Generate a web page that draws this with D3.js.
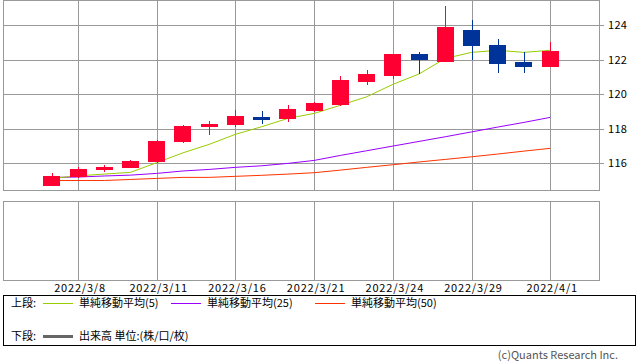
<!DOCTYPE html>
<html>
<head>
<meta charset="utf-8">
<script src="https://cdn.jsdelivr.net/npm/d3@7"></script>
<style>
  body { margin: 0; background: #fff; }
  svg text { font-family: "Noto Sans CJK JP", "DejaVu Sans", sans-serif; }
</style>
</head>
<body>
<div id="chart"></div>
<script>
// daily candles (USD/JPY style)
const dates = ["3/7","3/8","3/9","3/10","3/11","3/14","3/15","3/16","3/17","3/18",
               "3/21","3/22","3/23","3/24","3/25","3/28","3/29","3/30","3/31","4/1"];
const opens  = [114.71,115.19,115.63,115.75,116.08,117.25,118.12,118.23,118.68,118.55,
                119.04,119.39,120.72,121.05,122.32,121.86,123.71,122.84,121.86,121.57];
const highs  = [115.44,115.80,115.92,116.21,117.35,118.22,118.45,119.08,119.03,119.37,
                119.55,121.05,121.40,122.35,122.44,125.10,124.29,123.19,122.44,123.02];
const lows   = [114.71,115.17,115.50,115.72,116.00,117.20,117.64,118.12,118.27,118.41,
                119.00,119.32,120.55,120.90,121.17,121.85,121.98,121.22,121.22,121.55];
const closes = [115.27,115.67,115.80,116.13,117.29,118.16,118.27,118.74,118.52,119.14,
                119.49,120.82,121.17,122.32,121.98,123.88,122.79,121.74,121.57,122.50];

const ma5  = [115.13,115.28,115.38,115.48,116.04,116.61,117.10,117.68,118.12,118.60,
              118.89,119.36,119.85,120.57,121.17,122.07,122.42,122.54,122.42,122.54];
const ma25 = [115.19,115.21,115.27,115.32,115.42,115.56,115.65,115.77,115.86,116.00,
              116.17,116.46,116.73,117.00,117.27,117.54,117.82,118.10,118.37,118.66];
const ma50 = [115.01,115.01,115.01,115.07,115.13,115.19,115.19,115.25,115.31,115.38,
              115.46,115.61,115.77,115.92,116.08,116.23,116.38,116.54,116.71,116.87];

const yTicks = [116, 118, 120, 122, 124];
const xTickIdx = [1, 4, 7, 10, 13, 16, 19];
const xTickLabels = ["2022/3/8","2022/3/11","2022/3/16","2022/3/21","2022/3/24","2022/3/29","2022/4/1"];

const LAYOUT = {
    width: 638, height: 362,
    left: 3, right: 599,
    top: 0, bottom: 190,
    volTop: 201, volBottom: 280
};

const COLORS = {
    up: "#ff0033", down: "#003399",
    ma5: "#99cc00", ma25: "#9900ff", ma50: "#ff3300",
    grid: "#999999"
};

function renderChart() {
    const svg = d3.select("#chart").append("svg")
        .attr("width", LAYOUT.width)
        .attr("height", LAYOUT.height);

    const x = d3.scaleLinear().domain([-1.86, 20.86]).range([LAYOUT.left, LAYOUT.right]);
    const y = d3.scaleLinear().domain([114.46, 125.45]).range([LAYOUT.bottom, LAYOUT.top]);
    const candleW = 17;

    // --- price panel grid + border
    const grid = svg.append("g").attr("shape-rendering", "crispEdges");
    grid.selectAll(".hgrid").data(yTicks).join("line")
        .attr("x1", LAYOUT.left).attr("x2", LAYOUT.right + 5)
        .attr("y1", d => Math.round(y(d)) + 0.5).attr("y2", d => Math.round(y(d)) + 0.5)
        .attr("stroke", COLORS.grid);
    grid.selectAll(".vgrid").data(xTickIdx).join("line")
        .attr("x1", d => Math.round(x(d)) + 0.5).attr("x2", d => Math.round(x(d)) + 0.5)
        .attr("y1", LAYOUT.top).attr("y2", LAYOUT.bottom)
        .attr("stroke", COLORS.grid);
    grid.append("rect")
        .attr("x", LAYOUT.left + 0.5).attr("y", LAYOUT.top + 0.5)
        .attr("width", LAYOUT.right - LAYOUT.left).attr("height", LAYOUT.bottom - LAYOUT.top)
        .attr("fill", "none").attr("stroke", COLORS.grid);

    // --- volume panel (empty)
    grid.selectAll(".vgrid2").data(xTickIdx).join("line")
        .attr("x1", d => Math.round(x(d)) + 0.5).attr("x2", d => Math.round(x(d)) + 0.5)
        .attr("y1", LAYOUT.volTop).attr("y2", LAYOUT.volBottom)
        .attr("stroke", COLORS.grid);
    grid.append("rect")
        .attr("x", LAYOUT.left + 0.5).attr("y", LAYOUT.volTop + 0.5)
        .attr("width", LAYOUT.right - LAYOUT.left).attr("height", LAYOUT.volBottom - LAYOUT.volTop)
        .attr("fill", "none").attr("stroke", COLORS.grid);

    // y labels on the right
    svg.selectAll(".ylab").data(yTicks).join("text")
        .attr("x", 608).attr("y", d => y(d) + 4)
        .attr("font-size", 11).attr("letter-spacing", 0.3).attr("fill", "#000")
        .text(d => d);

    // x labels
    svg.selectAll(".xlab").data(xTickIdx).join("text")
        .attr("x", d => x(d) + 2).attr("y", 292)
        .attr("text-anchor", "middle")
        .attr("font-size", 11).attr("letter-spacing", 0.8).attr("fill", "#000")
        .text((d, i) => xTickLabels[i]);

    // --- moving averages
    const maLine = d3.line().x((d, i) => x(i)).y(d => y(d));
    [[ma50, COLORS.ma50], [ma25, COLORS.ma25], [ma5, COLORS.ma5]].forEach(([vals, col]) => {
        svg.append("path").datum(vals)
            .attr("d", maLine)
            .attr("fill", "none").attr("stroke", col).attr("stroke-width", 1);
    });

    // --- candles
    const candles = svg.append("g").attr("shape-rendering", "crispEdges");
    const idx = d3.range(dates.length);
    const col = i => closes[i] >= opens[i] ? COLORS.up : COLORS.down;
    candles.selectAll(".wick").data(idx).join("line")
        .attr("x1", i => Math.round(x(i)) + 0.5).attr("x2", i => Math.round(x(i)) + 0.5)
        .attr("y1", i => y(highs[i])).attr("y2", i => y(lows[i]))
        .attr("stroke", col).attr("stroke-width", 1);
    candles.selectAll(".body").data(idx).join("rect")
        .attr("x", i => Math.round(x(i) - candleW / 2))
        .attr("width", candleW)
        .attr("y", i => y(Math.max(opens[i], closes[i])))
        .attr("height", i => Math.max(1, Math.abs(y(opens[i]) - y(closes[i]))))
        .attr("fill", col);

    // --- legend
    const lg = svg.append("g");
    lg.append("rect")
        .attr("x", 3.5).attr("y", 295.5).attr("width", 632).attr("height", 50)
        .attr("fill", "none").attr("stroke", "#000").attr("shape-rendering", "crispEdges");
    lg.append("text").attr("x", 11).attr("y", 307).attr("font-size", 11).text("上段:");
    const items = [
        { x: 43, col: COLORS.ma5, label: "単純移動平均(5)" },
        { x: 171, col: COLORS.ma25, label: "単純移動平均(25)" },
        { x: 315, col: COLORS.ma50, label: "単純移動平均(50)" }
    ];
    items.forEach(it => {
        lg.append("line").attr("x1", it.x).attr("x2", it.x + 30)
            .attr("y1", 303.5).attr("y2", 303.5).attr("stroke", it.col);
        lg.append("text").attr("x", it.x + 36).attr("y", 307).attr("font-size", 11).text(it.label);
    });
    lg.append("text").attr("x", 11).attr("y", 340).attr("font-size", 11).text("下段:");
    lg.append("line").attr("x1", 43).attr("x2", 73)
        .attr("y1", 336.5).attr("y2", 336.5).attr("stroke", "#666").attr("stroke-width", 3);
    lg.append("text").attr("x", 79).attr("y", 340).attr("font-size", 11).text("出来高 単位:(株/口/枚)");

    svg.append("text")
        .attr("x", 618).attr("y", 359)
        .attr("text-anchor", "end")
        .attr("font-size", 11).attr("fill", "#555")
        .text("(c)Quants Research Inc.");
}

document.addEventListener("DOMContentLoaded", renderChart);
</script>
</body>
</html>
